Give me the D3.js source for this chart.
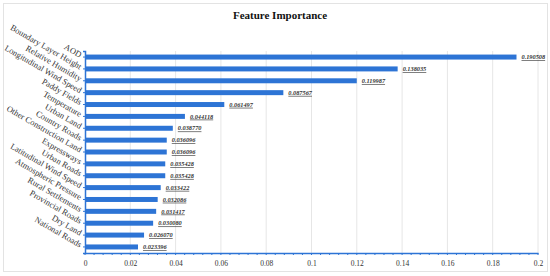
<!DOCTYPE html>
<html>
<head>
<meta charset="utf-8">
<script src="https://cdn.jsdelivr.net/npm/d3@7"></script>
<style>
  body { margin: 0; background: #fff; }
  text { font-family: "Liberation Serif", "Times New Roman", serif; }
</style>
</head>
<body>
<div id="plot"></div>
<script>
// Feature names (top to bottom)
const features = [
    "AOD", "Boundary Layer Height", "Relative Humidity", "Longitudinal Wind Speed",
    "Paddy Fields", "Temperature", "Urban Land", "Country Roads",
    "Other Construction Land", "Expressways", "Urban Roads", "Latitudinal Wind Speed",
    "Atmospheric Pressure", "Rural Settlements", "Provincial Roads", "Dry Land",
    "National Roads"
];
const importance = [
    0.190508, 0.138035, 0.119987, 0.087567, 0.061497, 0.044118, 0.038770, 0.036096,
    0.036096, 0.035428, 0.035428, 0.033422, 0.032086, 0.031417, 0.030080, 0.026070,
    0.023396
];
const labels = [
    "0.190508", "0.138035", "0.119987", "0.087567", "0.061497", "0.044118", "0.038770", "0.036096",
    "0.036096", "0.035428", "0.035428", "0.033422", "0.032086", "0.031417", "0.030080", "0.026070",
    "0.023396"
];
const xTicks = [0, 0.02, 0.04, 0.06, 0.08, 0.1, 0.12, 0.14, 0.16, 0.18, 0.2];

const width = 550;
const height = 276;
const margin = { top: 51, right: 12, bottom: 23, left: 85 };

const svg = d3.select("#plot")
    .append("svg")
    .attr("width", width)
    .attr("height", height);

// outer frame
svg.append("rect")
    .attr("x", 3.5).attr("y", 3.5)
    .attr("width", 544).attr("height", 268)
    .attr("fill", "none")
    .attr("stroke", "#e3e3e3");

const xScale = d3.scaleLinear()
    .domain([0, 0.2])
    .range([margin.left, width - margin.right]);

const yScale = d3.scaleBand()
    .domain(features)
    .range([margin.top, height - margin.bottom])
    .paddingInner(0.58)
    .paddingOuter(0.3);

// gridlines
svg.append("g")
    .selectAll("line")
    .data(xTicks.slice(1))
    .join("line")
    .attr("x1", (d) => xScale(d))
    .attr("x2", (d) => xScale(d))
    .attr("y1", margin.top)
    .attr("y2", height - margin.bottom)
    .attr("stroke", "#e6e6e6")
    .attr("stroke-width", 1);

// bars
svg.append("g")
    .selectAll("rect")
    .data(features)
    .join("rect")
    .attr("x", xScale(0))
    .attr("y", (d) => yScale(d))
    .attr("width", (d, i) => xScale(importance[i]) - xScale(0))
    .attr("height", yScale.bandwidth())
    .attr("fill", "#2d74d5");

// value labels
svg.append("g")
    .selectAll("text")
    .data(features)
    .join("text")
    .attr("x", (d, i) => xScale(importance[i]) + 5)
    .attr("y", (d) => yScale(d) + yScale.bandwidth() / 2 + 2.2)
    .attr("font-size", "6.3px")
    .attr("font-style", "italic")
    .attr("font-weight", "bold")
    .attr("text-decoration", "underline")
    .attr("fill", "#333")
    .text((d, i) => labels[i]);

// x axis
const xAxis = svg.append("g")
    .attr("transform", `translate(0,${height - margin.bottom})`)
    .call(d3.axisBottom(xScale).tickValues(xTicks).tickSize(0).tickPadding(8)
        .tickFormat((d) => d === 0 ? "0" : d3.format("~g")(d)));
xAxis.select(".domain").attr("stroke", "#2d74d5").attr("stroke-width", 1.5);
xAxis.selectAll("text")
    .attr("font-family", "Liberation Serif, serif")
    .attr("font-size", "7.5px")
    .attr("fill", "#333");

// minor ticks on x axis
svg.append("g")
    .selectAll("line")
    .data(d3.range(0, 51).map((i) => i * 0.004))
    .join("line")
    .attr("x1", (d) => xScale(d))
    .attr("x2", (d) => xScale(d))
    .attr("y1", height - margin.bottom)
    .attr("y2", height - margin.bottom + 2)
    .attr("stroke", "#2d74d5")
    .attr("stroke-width", 1);

// y axis
const yAxis = svg.append("g")
    .attr("transform", `translate(${margin.left},0)`)
    .call(d3.axisLeft(yScale).tickSize(2).tickPadding(3));
yAxis.select(".domain").attr("stroke", "#2d74d5").attr("stroke-width", 1.5);
yAxis.selectAll(".tick line").attr("stroke", "#2d74d5");
yAxis.selectAll("text")
    .attr("font-family", "Liberation Serif, serif")
    .attr("font-size", "8.5px")
    .attr("fill", "#333")
    .attr("text-anchor", "end")
    .attr("dy", "0.1em")
    .attr("transform", "rotate(30,-5,0)");

// title
svg.append("text")
    .attr("x", width / 2 + 5)
    .attr("y", 19)
    .attr("text-anchor", "middle")
    .attr("font-size", "11px")
    .attr("font-weight", "bold")
    .attr("fill", "#111")
    .text("Feature Importance");
</script>
</body>
</html>
